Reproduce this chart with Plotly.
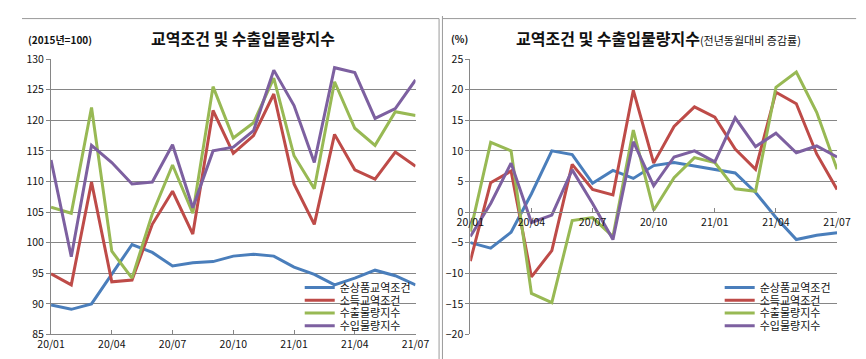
import plotly.graph_objects as go

W, H = 866, 359

months = ['20/01', '20/02', '20/03', '20/04', '20/05', '20/06', '20/07', '20/08', '20/09', '20/10',
          '20/11', '20/12', '21/01', '21/02', '21/03', '21/04', '21/05', '21/06', '21/07']
tick_labels = ['20/01', '20/04', '20/07', '20/10', '21/01', '21/04', '21/07']
series_names = ['순상품교역조건', '소득교역조건', '수출물량지수', '수입물량지수']
colors = ['#4A7EBB', '#BE4B48', '#98B954', '#7D60A0']

# Left panel: index level (2015=100)
idx_terms = [89.8, 89.1, 90.0, 94.8, 99.7, 98.4, 96.2, 96.7, 96.9, 97.8, 98.1, 97.8, 96.0, 94.8, 93.1, 94.2, 95.5, 94.6, 93.1]
idx_income = [94.9, 93.1, 109.9, 93.6, 93.9, 103.0, 108.4, 101.4, 121.6, 114.6, 117.5, 124.3, 109.6, 103.0, 117.7, 111.9, 110.4, 114.8, 112.5]
idx_export = [105.8, 104.8, 122.1, 98.6, 94.2, 104.7, 112.7, 104.8, 125.5, 117.1, 119.6, 126.9, 114.2, 108.8, 126.3, 118.7, 115.9, 121.4, 120.8]
idx_import = [113.5, 97.7, 115.9, 113.1, 109.6, 109.9, 116.0, 105.7, 115.0, 115.6, 118.3, 128.2, 122.4, 113.1, 128.6, 127.8, 120.3, 121.9, 126.6]

# Right panel: year-over-year change (%)
yoy_terms = [-5.0, -5.9, -3.3, 3.0, 10.0, 9.4, 4.7, 6.8, 5.5, 7.6, 8.1, 7.5, 6.9, 6.4, 3.2, -0.9, -4.5, -3.8, -3.4]
yoy_income = [-8.0, 4.8, 6.7, -10.6, -6.3, 7.8, 3.7, 2.8, 19.9, 8.0, 14.0, 17.2, 15.5, 10.3, 7.0, 19.6, 17.7, 9.5, 3.7]
yoy_export = [-3.2, 11.4, 10.0, -13.3, -14.8, -1.4, -0.9, -4.0, 13.4, 0.3, 5.6, 8.9, 8.1, 3.8, 3.4, 20.4, 22.9, 16.3, 7.0]
yoy_import = [-4.0, 1.4, 8.0, -1.7, -0.5, 6.9, 1.4, -4.5, 11.5, 4.3, 9.0, 10.0, 8.2, 15.4, 10.7, 12.9, 9.7, 10.8, 9.0]

left_series = [idx_terms, idx_income, idx_export, idx_import]
right_series = [yoy_terms, yoy_income, yoy_export, yoy_import]


def px(x):
    return x / W


def py(y):
    return 1 - y / H


FONT = 'Noto Sans CJK KR'
GRID = '#868686'

fig = go.Figure()

legend_y = [283.3, 296.6, 309.9, 323.2]
layout_legends = {}
for i, (name, vals) in enumerate(zip(series_names, left_series)):
    lg = 'legend' if i == 0 else 'legend%d' % (i + 1)
    fig.add_trace(go.Scatter(x=months, y=vals, mode='lines', name=name,
                             line=dict(color=colors[i], width=3),
                             xaxis='x', yaxis='y', legend=lg))
    layout_legends[lg] = dict(x=px(287), xanchor='left', y=py(legend_y[i]), yanchor='middle',
                              bgcolor='rgba(0,0,0,0)', borderwidth=0,
                              font=dict(family=FONT, size=11, color='#111'))
for i, (name, vals) in enumerate(zip(series_names, right_series)):
    lg = 'legend%d' % (i + 5)
    fig.add_trace(go.Scatter(x=months, y=vals, mode='lines', name=name,
                             line=dict(color=colors[i], width=3),
                             xaxis='x2', yaxis='y2', legend=lg))
    layout_legends[lg] = dict(x=px(721), xanchor='left', y=py(legend_y[i]), yanchor='middle',
                              bgcolor='rgba(0,0,0,0)', borderwidth=0,
                              font=dict(family=FONT, size=11, color='#111'))

ydom = [py(332.3), py(45)]
zero_pos = ydom[0] + (ydom[1] - ydom[0]) * 20 / 45

tickfont = dict(family=FONT, size=10.5, color='#111')

fig.update_layout(
    width=W, height=H,
    margin=dict(l=0, r=0, t=0, b=0),
    paper_bgcolor='white', plot_bgcolor='white',
    showlegend=True,
    xaxis=dict(domain=[px(30), px(406.7)], anchor='y', type='category', categoryorder='array',
               categoryarray=months, range=[0, 18], tickvals=tick_labels, ticktext=tick_labels,
               showgrid=False, showline=True, linecolor=GRID, linewidth=1,
               ticks='inside', ticklen=4, tickcolor=GRID, tickfont=tickfont),
    yaxis=dict(domain=ydom, anchor='x', range=[85, 130], dtick=5, tick0=85,
               showgrid=True, gridcolor=GRID, gridwidth=1, zeroline=False,
               showline=True, linecolor=GRID, linewidth=1,
               ticks='outside', ticklen=4, tickcolor=GRID, tickfont=tickfont),
    xaxis2=dict(domain=[px(463.3), px(842.3)], anchor='free', position=zero_pos, type='category',
                categoryorder='array', categoryarray=months, range=[0, 18],
                tickvals=tick_labels, ticktext=tick_labels,
                showgrid=False, showline=True, linecolor=GRID, linewidth=1,
                ticks='inside', ticklen=4, tickcolor=GRID, tickfont=tickfont),
    yaxis2=dict(domain=ydom, anchor='x2', range=[-20, 25], dtick=5, tick0=-20,
                showgrid=True, gridcolor=GRID, gridwidth=1, zeroline=False,
                showline=True, linecolor=GRID, linewidth=1,
                ticks='outside', ticklen=4, tickcolor=GRID, tickfont=tickfont),
    **layout_legends,
)

annotations = [
    dict(text='<b>교역조건 및 수출입물량지수</b>', x=px(228.3), y=py(23), xref='paper', yref='paper',
         xanchor='center', yanchor='middle', showarrow=False,
         font=dict(family=FONT, size=16, color='#111')),
    dict(text='<b>교역조건 및 수출입물량지수</b><span style="font-size:11px">(전년동월대비 증감률)</span>',
         x=px(657.5), y=py(23), xref='paper', yref='paper',
         xanchor='center', yanchor='middle', showarrow=False,
         font=dict(family=FONT, size=16, color='#111')),
    dict(text='<b>(2015년=100)</b>', x=px(4), y=py(25), xref='paper', yref='paper',
         xanchor='left', yanchor='middle', showarrow=False,
         font=dict(family=FONT, size=10, color='#111')),
    dict(text='<b>(%)</b>', x=px(441), y=py(23), xref='paper', yref='paper',
         xanchor='left', yanchor='middle', showarrow=False,
         font=dict(family=FONT, size=10, color='#111')),
]
fig.update_layout(annotations=annotations)

BORDER = '#9a9a9a'
shapes = [
    dict(type='line', xref='paper', yref='paper', x0=0, x1=px(431), y0=py(2.7), y1=py(2.7),
         line=dict(color=BORDER, width=1)),
    dict(type='line', xref='paper', yref='paper', x0=px(435), x1=px(862), y0=py(2.7), y1=py(2.7),
         line=dict(color=BORDER, width=1)),
    dict(type='line', xref='paper', yref='paper', x0=px(431), x1=px(431), y0=0, y1=py(2.7),
         line=dict(color=BORDER, width=1)),
    dict(type='line', xref='paper', yref='paper', x0=px(434.5), x1=px(434.5), y0=0, y1=1,
         line=dict(color=BORDER, width=1)),
]
fig.update_layout(shapes=shapes)

fig.write_html('out.html')
